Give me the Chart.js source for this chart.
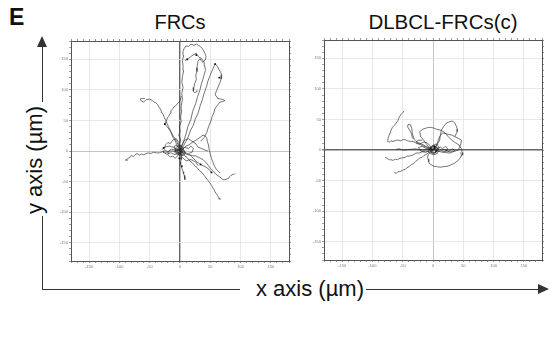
<!DOCTYPE html>
<html>
<head>
<meta charset="utf-8">
<script src="https://cdn.jsdelivr.net/npm/chart.js@4.4.0/dist/chart.umd.min.js"></script>
<style>
  body { margin: 0; width: 552px; height: 341px; background: #fff; position: relative; overflow: hidden;
         font-family: "Liberation Sans", Arial, sans-serif; color: #111; }
  .abs { position: absolute; }
  .panel { position: absolute; width: 236px; height: 236px; }
  .title { position: absolute; font-size: 20px; line-height: 20px; white-space: nowrap; transform: translateX(-50%); }
  .line { position: absolute; background: #333; }
</style>
</head>
<body>
<div class="abs" style="left:9px;top:6px;font-size:23px;font-weight:bold;line-height:23px;">E</div>
<div class="title" style="left:180px;top:12px;">FRCs</div>
<div class="title" style="left:443px;top:12px;font-size:20.5px;">DLBCL-FRCs(c)</div>

<div class="panel" style="left:57px;top:36px;"><canvas id="frc" width="236" height="236"></canvas></div>
<div class="panel" style="left:310px;top:35px;"><canvas id="dlbcl" width="236" height="236"></canvas></div>

<!-- y axis arrow -->
<div class="line" style="left:41.5px;top:46px;width:1.5px;height:56px;"></div>
<div class="abs" style="left:37px;top:36px;width:0;height:0;border-left:5px solid transparent;border-right:5px solid transparent;border-bottom:11px solid #333;"></div>
<div class="abs" style="left:35px;top:160px;font-size:22px;line-height:22px;white-space:nowrap;transform:translate(-50%,-50%) rotate(-90deg);">y axis (µm)</div>
<div class="line" style="left:41.5px;top:216px;width:1.5px;height:74px;"></div>
<!-- x axis arrow -->
<div class="line" style="left:41.5px;top:288.5px;width:198px;height:1.5px;"></div>
<div class="abs" style="left:310px;top:289px;font-size:22px;line-height:22px;white-space:nowrap;transform:translate(-50%,-50%);">x axis (µm)</div>
<div class="line" style="left:366px;top:288.5px;width:173px;height:1.5px;"></div>
<div class="abs" style="left:538px;top:284px;width:0;height:0;border-top:5px solid transparent;border-bottom:5px solid transparent;border-left:11px solid #333;"></div>

<script>
// axis range and ticks (µm)
const axisMin = -180;
const axisMax = 180;
const minorStep = 10;
const labelStep = 50;

// FRCs tracks, each one a list of [x, y] positions
const frcTracks = [
  [[0,0],[2,5],[-1,12],[1,18],[-2,26],[0,32],[-1,40],[2,48],[1,56],[3,66],[2,74],[4,84],[3,94],[5,104],[3,113],[4,122],[6,131],[5,140],[4,148],[6,156],[5,163],[7,168],[10,172],[14,171],[18,175],[23,173],[27,175],[32,172],[36,169],[39,164],[41,160],[43,155],[42,150],[38,145],[35,148],[33,151],[30,147],[29,143],[28,136],[28,130],[26,124],[27,117],[24,110],[23,104],[22,98],[24,95],[27,97],[28,100]],
  [[0,0],[4,5],[6,9],[10,16],[14,24],[17,33],[22,42],[25,52],[30,62],[33,73],[37,84],[40,95],[44,106],[46,114],[49,122],[52,129],[55,136],[57,140],[59,142],[62,138],[64,134],[67,129],[69,124],[68,118],[66,112],[63,105],[60,98],[58,92],[61,88],[62,86],[67,85],[72,84],[74,82],[70,81],[66,80],[62,75],[58,70],[56,63],[53,56],[51,49],[48,42],[46,36],[44,30],[42,26],[40,22],[37,19],[34,16]],
  [[0,0],[2,6],[4,10],[7,19],[10,28],[13,40],[18,52],[21,65],[26,78],[29,89],[33,100],[35,109],[38,118],[40,125],[42,132],[41,139],[40,145],[37,149],[35,152],[32,153],[30,155],[28,158],[27,160],[20,156],[12,150],[8,148]],
  [[0,0],[3,-2],[6,-3],[10,-5],[14,-6],[18,-7],[22,-8],[26,-8],[30,-10],[34,-12],[38,-14],[41,-17],[44,-20],[47,-24],[50,-28],[53,-31],[56,-34],[59,-38],[62,-40],[65,-42],[68,-44],[71,-47],[74,-47],[77,-46],[80,-45],[82,-42],[84,-40],[86,-39],[88,-38],[90,-38],[91,-37]],
  [[0,0],[5,4],[10,8],[15,10],[20,14],[25,17],[30,20],[34,23],[38,26],[41,25],[44,22],[45,16],[47,10],[48,3],[50,-5],[52,-12],[55,-20],[57,-25],[60,-30],[63,-33],[66,-36]],
  [[0,0],[4,-3],[8,-8],[12,-11],[16,-16],[20,-19],[24,-24],[28,-27],[32,-32],[36,-35],[40,-40],[43,-44],[46,-48],[49,-52],[52,-56],[54,-60],[56,-63],[58,-67],[60,-70],[62,-73],[64,-76],[66,-78],[67,-79],[63,-78]],
  [[0,0],[-3,2],[-6,1],[-9,-1],[-12,0],[-17,0],[-20,-2],[-24,-2],[-29,-1],[-34,-3],[-39,-3],[-44,-2],[-48,-4],[-53,-3],[-57,-5],[-60,-6],[-64,-5],[-67,-7],[-71,-4],[-74,-6],[-77,-9],[-80,-7],[-82,-10],[-84,-11],[-87,-13],[-90,-15],[-86,-15]],
  [[0,0],[-4,8],[-7,14],[-9,19],[-12,23],[-14,28],[-17,36],[-19,40],[-21,44],[-23,49],[-26,55],[-28,60],[-30,63],[-31,66],[-34,71],[-37,76],[-40,79],[-43,80],[-46,83],[-51,85],[-56,84],[-60,80],[-64,82],[-66,85],[-62,86],[-58,86]],
  [[0,0],[1,-6],[2,-10],[2,-14],[1,-18],[1,-22],[3,-28],[4,-31],[5,-34],[6,-37],[7,-40],[8,-44],[8,-47]],
  [[0,0],[-3,10],[-5,15],[-8,20],[-11,24],[-14,30],[-17,34],[-20,38],[-25,44],[-22,50],[-21,54],[-18,58],[-16,62],[-15,66],[-12,69],[-10,72],[-6,75],[-4,78],[0,82],[2,90]],
  [[0,0],[4,-1],[8,-2],[12,-4],[16,-6],[19,-9],[22,-12],[25,-15],[28,-18],[34,-22],[38,-24],[42,-26],[45,-28],[48,-30],[50,-33],[52,-35]],
  [[0,0],[-5,4],[-9,-2],[-4,-6],[3,-3],[6,4],[2,9],[-3,6],[-7,10],[-10,6],[-6,0],[0,-4],[5,-8],[9,-4],[5,2]],
  [[0,0],[-14,3],[-20,-1],[-26,2],[-28,-2],[-22,-5],[-15,-3],[-8,-6],[-2,-2]],
  [[0,0],[4,12],[8,18],[14,20],[20,16],[26,12],[30,6],[36,4],[40,2],[46,0]],
  [[0,0],[-2,14],[-6,20],[-12,18],[-16,12],[-20,14],[-24,10],[-26,4]],
  [[0,0],[-10,6],[-18,8],[-26,6],[-30,2]],
  [[0,0],[3,-10],[10,-16],[18,-14],[26,-18],[30,-24]],
  [[0,0],[-3,3],[-6,-2],[-2,-4],[2,-1],[4,3],[0,5],[-4,2],[-3,-3],[1,-6],[4,-2],[2,2],[-1,1]],
  [[0,0],[3,6],[-2,10],[-6,6],[-9,1],[-5,-4],[0,-8],[6,-5],[8,0],[4,4]],
  [[0,0],[-4,-8],[-8,-12],[-12,-8],[-16,-10],[-20,-6],[-18,-2]],
  [[0,0],[8,6],[14,4],[18,8],[22,4],[20,-2],[14,-4]]
];
const frcMarkers = [[12,150],[27,157],[58,142],[65,120],[-25,44],[-27,5],[34,-22],[52,-35],[-1,-12],[3,-25]];

// DLBCL-FRCs(c) tracks
const dlbclTracks = [
  [[0,0],[-4,2],[-8,3],[-12,5],[-17,7],[-21,9],[-25,10],[-29,12],[-33,14],[-37,14],[-42,15],[-46,17],[-50,17],[-53,15],[-56,16],[-60,16],[-63,15],[-66,14],[-69,15],[-72,13],[-75,14],[-74,20],[-72,25],[-71,28],[-70,31],[-67,37],[-64,40],[-61,44],[-58,48],[-57,51],[-55,55],[-53,58],[-50,61],[-48,64]],
  [[0,0],[-4,-1],[-8,-2],[-13,-2],[-18,-3],[-23,-5],[-28,-5],[-33,-8],[-39,-10],[-43,-10],[-46,-12],[-51,-13],[-56,-14],[-59,-16],[-62,-15],[-66,-17],[-69,-16],[-72,-16],[-74,-15],[-77,-13],[-79,-12]],
  [[0,0],[-3,-1],[-5,-3],[-8,-5],[-11,-7],[-15,-9],[-18,-12],[-22,-13],[-25,-16],[-29,-19],[-32,-22],[-36,-24],[-39,-27],[-43,-29],[-46,-32],[-50,-33],[-53,-35],[-56,-35],[-58,-36],[-61,-38],[-64,-37]],
  [[0,0],[-5,1],[-10,1],[-15,0],[-20,0],[-25,1],[-30,2],[-35,1],[-40,1],[-45,0],[-50,0],[-56,2],[-61,1]],
  [[0,0],[-5,3],[-10,5],[-15,8],[-20,10],[-24,12],[-28,14],[-31,17],[-34,20],[-36,28],[-39,33],[-42,38],[-41,42],[-37,41],[-35,35],[-34,26],[-31,18]],
  [[0,0],[-4,3],[-8,6],[-11,10],[-14,14],[-17,18],[-20,22],[-21,26],[-22,30],[-17,34],[-11,36],[-7,37],[-3,37],[1,36],[6,34],[10,33],[14,32],[17,30],[20,28],[25,22],[28,19],[31,16],[34,14],[37,12],[40,10],[43,8],[45,5],[47,2],[48,-4],[49,-8],[46,-10]],
  [[0,0],[5,6],[8,11],[11,16],[12,24],[14,33],[18,39],[22,44],[27,46],[30,47],[33,47],[36,44],[39,38],[40,34],[40,30],[36,22],[40,20],[44,18],[47,16],[46,10],[44,5],[42,0],[39,-1],[36,-2],[32,-3],[28,-3],[24,-2],[20,-1]],
  [[0,0],[6,8],[11,22],[16,28],[20,27],[24,26],[28,25],[32,24],[36,22]],
  [[0,0],[-4,-3],[-8,-8],[-9,-12],[-8,-15],[-7,-19],[-6,-22],[-3,-24],[0,-26],[3,-27],[6,-27],[10,-28],[14,-28],[18,-27],[22,-27],[26,-26],[30,-24],[35,-22],[39,-19],[42,-17],[44,-14],[46,-11],[47,-8],[45,-4]],
  [[0,0],[4,6],[8,2],[5,-4],[-2,-5],[-6,2],[-2,7],[6,10],[10,4],[7,-6],[0,-8],[-8,-3],[-4,4],[2,3]],
  [[0,0],[-12,3],[-18,6],[-24,4],[-20,-2],[-12,-4],[-6,-1]],
  [[0,0],[10,-2],[18,1],[26,-2],[32,2],[36,-1],[28,-5],[18,-4],[8,-2]],
  [[0,0],[-6,8],[-10,12],[-15,13],[-22,10],[-28,12],[-25,16],[-18,16]],
  [[0,0],[3,3],[-1,6],[-4,2],[-2,-3],[3,-4],[6,0],[4,4],[1,2]],
  [[0,0],[-3,-4],[2,-6],[6,-3],[8,3],[3,7],[-3,5],[-5,0]],
  [[0,0],[6,2],[12,5],[16,2],[20,6],[24,3],[22,-2],[15,-3]]
];
const dlbclMarkers = [[3,3],[-2,1],[5,-2],[2,6]];

function toPoints(track) {
  return track.map(p => ({ x: p[0], y: p[1] }));
}

function makeChart(id, tracks, markers, darkAxis) {
  const datasets = tracks.map(t => ({
    data: toPoints(t),
    showLine: true,
    borderColor: '#2a2a2a',
    borderWidth: 0.65,
    pointRadius: 0
  }));
  datasets.push({
    data: toPoints(markers),
    showLine: false,
    pointStyle: 'rect',
    pointRadius: 1.2,
    backgroundColor: '#000',
    borderColor: '#000',
    borderWidth: 0
  });

  // zero line: one axis gets a dark line, the other a light one
  const gridColor = (axis) => (ctx) => {
    const v = ctx.tick.value;
    if (v === 0) return axis === darkAxis ? '#666' : '#b5b5b5';
    return v % labelStep === 0 ? '#e2e2e2' : 'rgba(0,0,0,0)';
  };
  const gridWidth = (axis) => (ctx) => (ctx.tick.value === 0 && axis === darkAxis ? 1.4 : 0.8);
  const label = (v) => (v % labelStep === 0 ? String(v) : '');

  const base = {
    type: 'linear', min: axisMin, max: axisMax,
    border: { color: '#555', width: 1 }
  };

  new Chart(document.getElementById(id), {
    type: 'scatter',
    data: { datasets },
    options: {
      responsive: false,
      animation: false,
      plugins: { legend: { display: false }, tooltip: { enabled: false } },
      layout: { padding: 0 },
      scales: {
        x: Object.assign({}, base, {
          position: 'bottom',
          grid: { color: gridColor('x'), lineWidth: gridWidth('x'), tickColor: '#888', tickLength: 2 },
          ticks: { stepSize: minorStep, autoSkip: false, maxRotation: 0, padding: 1,
                   font: { size: 4 }, color: '#777', callback: label },
          afterFit: s => { s.height = 11; }
        }),
        y: Object.assign({}, base, {
          position: 'left',
          grid: { color: gridColor('y'), lineWidth: gridWidth('y'), tickColor: '#888', tickLength: 2 },
          ticks: { stepSize: minorStep, autoSkip: false, padding: 1,
                   font: { size: 4 }, color: '#777', callback: label },
          afterFit: s => { s.width = 14; }
        }),
        x2: Object.assign({}, base, {
          position: 'top',
          grid: { drawOnChartArea: false, tickColor: '#999', tickLength: 2 },
          ticks: { stepSize: minorStep, display: false },
          afterFit: s => { s.height = 5; }
        }),
        y2: Object.assign({}, base, {
          position: 'right',
          grid: { drawOnChartArea: false, tickColor: '#999', tickLength: 2 },
          ticks: { stepSize: minorStep, display: false },
          afterFit: s => { s.width = 4; }
        })
      }
    }
  });
}

makeChart('frc', frcTracks, frcMarkers, 'x');
makeChart('dlbcl', dlbclTracks, dlbclMarkers, 'y');
</script>
</body>
</html>
